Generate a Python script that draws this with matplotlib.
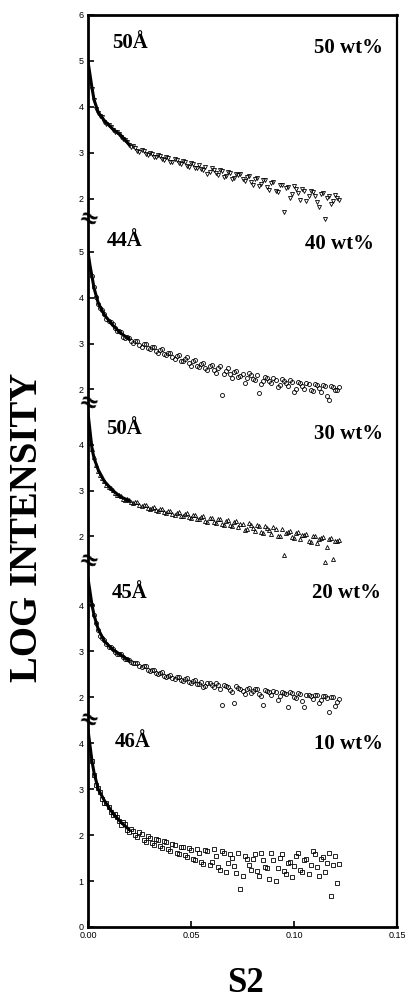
import matplotlib
matplotlib.use("Agg")
import matplotlib.pyplot as plt
import matplotlib.transforms as mtransforms

# ---------------- data ----------------
S2 = [0.002, 0.004, 0.006, 0.008, 0.010, 0.012, 0.014, 0.016, 0.018, 0.020,
      0.022, 0.024, 0.026, 0.028, 0.030, 0.032, 0.034, 0.036, 0.038, 0.040,
      0.042, 0.044, 0.046, 0.048, 0.050, 0.052, 0.054, 0.056, 0.058, 0.060,
      0.062, 0.064, 0.066, 0.068, 0.070, 0.072, 0.074, 0.076, 0.078, 0.080,
      0.082, 0.084, 0.086, 0.088, 0.090, 0.092, 0.094, 0.096, 0.098, 0.100,
      0.102, 0.104, 0.106, 0.108, 0.110, 0.112, 0.114, 0.116, 0.118, 0.120,
      0.122]
S2_b = [0.003, 0.005, 0.007, 0.009, 0.011, 0.013, 0.015, 0.017, 0.019, 0.021,
        0.023, 0.025, 0.027, 0.029, 0.031, 0.033, 0.035, 0.037, 0.039, 0.041,
        0.043, 0.045, 0.047, 0.049, 0.051, 0.053, 0.055, 0.057, 0.059, 0.061,
        0.063, 0.065, 0.067, 0.069, 0.071, 0.073, 0.075, 0.077, 0.079, 0.081,
        0.083, 0.085, 0.087, 0.089, 0.091, 0.093, 0.095, 0.097, 0.099, 0.101,
        0.103, 0.105, 0.107, 0.109, 0.111, 0.113, 0.115, 0.117, 0.119, 0.121]

wt50 = [4.40, 3.96, 3.81, 3.68, 3.61, 3.50, 3.46, 3.34, 3.29, 3.17,
        3.14, 3.05, 3.06, 2.97, 3.00, 2.91, 2.95, 2.86, 2.90, 2.80,
        2.86, 2.77, 2.83, 2.72, 2.78, 2.66, 2.74, 2.63, 2.55, 2.66,
        2.57, 2.62, 2.48, 2.58, 2.44, 2.55, 2.53, 2.38, 2.49, 2.30,
        2.45, 2.33, 2.41, 2.20, 2.36, 2.15, 2.31, 2.24, 2.02, 2.28,
        2.12, 2.22, 1.96, 2.18, 2.05, 1.82, 2.12, 2.01, 1.88, 2.08,
        1.97]
wt50_b = [4.16, 3.86, 3.77, 3.63, 3.57, 3.46, 3.41, 3.30, 3.24, 3.13,
          3.11, 3.02, 3.03, 2.95, 2.98, 2.90, 2.93, 2.84, 2.88, 2.81,
          2.84, 2.76, 2.81, 2.70, 2.75, 2.67, 2.64, 2.70, 2.58, 2.63,
          2.52, 2.60, 2.50, 2.56, 2.45, 2.52, 2.42, 2.48, 2.36, 2.43,
          2.28, 2.40, 2.25, 2.35, 2.18, 2.30, 1.72, 2.26, 2.10, 2.22,
          1.98, 2.18, 2.06, 2.15, 1.92, 2.10, 1.55, 2.05, 1.95, 2.02]
wt40 = [4.46, 4.01, 3.78, 3.64, 3.48, 3.42, 3.28, 3.24, 3.12, 3.13,
        3.02, 3.05, 2.93, 2.99, 2.88, 2.93, 2.80, 2.87, 2.74, 2.80,
        2.66, 2.75, 2.62, 2.70, 2.52, 2.64, 2.48, 2.58, 2.42, 2.53,
        2.36, 2.50, 2.33, 2.46, 2.25, 2.40, 2.30, 2.15, 2.36, 2.22,
        2.31, 2.12, 2.28, 2.18, 2.26, 2.05, 2.22, 2.14, 2.20, 1.95,
        2.17, 2.08, 2.15, 1.98, 2.12, 2.04, 2.10, 1.86, 2.07, 1.99,
        2.05]
wt40_b = [4.22, 3.86, 3.72, 3.54, 3.47, 3.33, 3.28, 3.15, 3.14, 3.05,
          3.06, 2.97, 2.98, 2.90, 2.92, 2.84, 2.86, 2.77, 2.79, 2.70,
          2.72, 2.63, 2.66, 2.57, 2.61, 2.52, 2.56, 2.47, 2.51, 2.43,
          2.46, 1.88, 2.41, 2.33, 2.37, 2.28, 2.34, 2.24, 2.31, 2.20,
          1.92, 2.19, 2.25, 2.14, 2.21, 2.10, 2.18, 2.07, 2.16, 2.02,
          2.13, 2.00, 2.11, 1.97, 2.09, 1.94, 2.07, 1.76, 2.05, 1.98]
wt30 = [3.90, 3.56, 3.33, 3.21, 3.08, 3.01, 2.91, 2.87, 2.80, 2.79,
        2.73, 2.74, 2.67, 2.68, 2.60, 2.64, 2.56, 2.60, 2.52, 2.55,
        2.47, 2.53, 2.44, 2.50, 2.40, 2.47, 2.38, 2.45, 2.32, 2.41,
        2.30, 2.38, 2.26, 2.36, 2.22, 2.33, 2.28, 2.14, 2.29, 2.18,
        2.25, 2.10, 2.22, 2.13, 2.20, 2.02, 2.16, 2.08, 2.12, 1.96,
        2.09, 2.03, 2.06, 1.88, 2.02, 1.95, 1.99, 1.78, 1.96, 1.90,
        1.93]
wt30_b = [3.72, 3.43, 3.28, 3.13, 3.06, 2.94, 2.91, 2.82, 2.81, 2.74,
          2.74, 2.68, 2.68, 2.62, 2.63, 2.57, 2.59, 2.53, 2.55, 2.49,
          2.52, 2.45, 2.49, 2.42, 2.46, 2.37, 2.43, 2.34, 2.40, 2.31,
          2.37, 2.27, 2.34, 2.25, 2.31, 2.20, 2.27, 2.16, 2.25, 2.12,
          2.22, 2.08, 2.19, 2.05, 2.17, 2.00, 1.60, 2.10, 1.98, 2.07,
          1.94, 2.04, 1.90, 2.01, 1.86, 1.97, 1.45, 1.94, 1.50, 1.91]
wt20 = [4.00, 3.62, 3.33, 3.24, 3.10, 3.06, 2.95, 2.94, 2.84, 2.82,
        2.74, 2.75, 2.65, 2.67, 2.57, 2.60, 2.51, 2.55, 2.45, 2.48,
        2.40, 2.45, 2.36, 2.41, 2.31, 2.37, 2.28, 2.22, 2.32, 2.26,
        2.30, 2.18, 2.27, 2.22, 2.12, 2.24, 2.19, 2.08, 2.21, 2.14,
        2.18, 2.02, 2.16, 2.11, 2.14, 1.95, 2.12, 2.08, 2.11, 2.00,
        2.09, 1.92, 2.06, 2.03, 2.05, 1.88, 2.03, 1.99, 2.01, 1.82,
        1.97]
wt20_b = [3.80, 3.46, 3.30, 3.15, 3.09, 2.98, 2.95, 2.87, 2.84, 2.76,
          2.75, 2.68, 2.67, 2.60, 2.59, 2.53, 2.53, 2.47, 2.47, 2.42,
          2.44, 2.38, 2.40, 2.33, 2.35, 2.29, 2.33, 2.25, 2.30, 2.23,
          2.27, 1.83, 2.25, 2.16, 1.87, 2.21, 2.14, 2.19, 2.10, 2.17,
          2.07, 1.83, 2.13, 2.05, 2.12, 2.02, 2.10, 1.78, 2.09, 1.99,
          2.07, 1.78, 2.05, 1.96, 2.04, 1.93, 2.02, 1.67, 2.00, 1.90]
wt10 = [3.62, 3.08, 2.93, 2.70, 2.62, 2.44, 2.40, 2.22, 2.24, 2.06,
        2.10, 1.95, 2.02, 1.86, 1.94, 1.78, 1.90, 1.72, 1.84, 1.66,
        1.78, 1.58, 1.74, 1.52, 1.68, 1.45, 1.62, 1.38, 1.66, 1.42,
        1.55, 1.25, 1.62, 1.40, 1.50, 1.18, 0.82, 1.55, 1.35, 1.48,
        1.22, 1.60, 1.30, 1.05, 1.45, 1.28, 1.58, 1.15, 1.42, 1.32,
        1.62, 1.20, 1.48, 1.35, 1.58, 1.10, 1.52, 1.40, 0.68, 1.55,
        1.38]
wt10_b = [3.30, 3.02, 2.78, 2.70, 2.50, 2.46, 2.30, 2.28, 2.12, 2.14,
          2.00, 2.06, 1.90, 1.98, 1.82, 1.92, 1.76, 1.88, 1.70, 1.80,
          1.62, 1.75, 1.56, 1.72, 1.48, 1.70, 1.42, 1.68, 1.35, 1.70,
          1.30, 1.65, 1.20, 1.58, 1.32, 1.62, 1.10, 1.48, 1.25, 1.58,
          1.12, 1.45, 1.28, 1.62, 1.00, 1.50, 1.22, 1.40, 1.08, 1.55,
          1.25, 1.45, 1.15, 1.65, 1.30, 1.48, 1.20, 1.62, 1.35, 0.95]

FIT_X = [0.0, 0.001, 0.002, 0.003, 0.005, 0.008, 0.012, 0.016, 0.020]
fit50 = [5.00, 4.70, 4.40, 4.15, 3.88, 3.70, 3.52, 3.38, 3.18]
fit40 = [5.00, 4.70, 4.45, 4.20, 3.88, 3.62, 3.40, 3.22, 3.10]
fit30 = [4.70, 4.30, 3.90, 3.70, 3.45, 3.20, 3.00, 2.86, 2.78]
fit20 = [4.60, 4.30, 4.00, 3.78, 3.48, 3.22, 3.04, 2.92, 2.80]
fit10 = [4.30, 3.95, 3.60, 3.35, 3.00, 2.75, 2.48, 2.28, 2.12]

concentrations = ["50 wt%", "40 wt%", "30 wt%", "20 wt%", "10 wt%"]
sizes = ["50Å", "44Å", "50Å", "45Å", "46Å"]
series_a = [wt50, wt40, wt30, wt20, wt10]
series_b = [wt50_b, wt40_b, wt30_b, wt20_b, wt10_b]
fits = [fit50, fit40, fit30, fit20, fit10]
panel_ticks = [[2, 3, 4, 5, 6], [2, 3, 4, 5], [2, 3, 4], [2, 3, 4], [0, 1, 2, 3, 4]]
x_ticks = [0.00, 0.05, 0.10, 0.15]

# ---------------- layout / style ----------------
offsets = [13.85, 9.7, 6.5, 3.0, 0.0]
markers = ["v", "o", "^", "o", "s"]
breaks = [15.4, 11.4, 7.95, 4.5]
size_pos = [(0.0116, 19.24), (0.0092, 14.93), (0.0087, 10.85), (0.0116, 7.26), (0.013, 4.02)]
conc_pos = [(0.143, 19.13), (0.139, 14.87), (0.143, 10.72), (0.142, 7.26), (0.143, 3.98)]

serif = ["Liberation Serif", "DejaVu Serif"]
sans = ["Liberation Sans", "DejaVu Sans"]

fig = plt.figure(figsize=(4.09, 10.0), dpi=100)
ax = fig.add_axes([0.215, 0.073, 0.756, 0.912])

mstyle = dict(linestyle="none", markersize=2.9, markerfacecolor="none",
              markeredgecolor="black", markeredgewidth=0.6, zorder=3)
for ya, yb, fy, off, mk in zip(series_a, series_b, fits, offsets, markers):
    ax.plot(S2, [v + off for v in ya], marker=mk, **mstyle)
    ax.plot(S2_b, [v + off for v in yb], marker=mk, **mstyle)
    ax.plot(FIT_X, [v + off for v in fy], color="black", linewidth=2.2,
            solid_capstyle="round", zorder=4)

ax.set_xlim(0, 0.15)
ax.set_ylim(0, 19.85)

ytick_pos, ytick_lab = [], []
for tks, off in zip(panel_ticks, offsets):
    for t in tks:
        ytick_pos.append(t + off)
        ytick_lab.append(str(t))
ax.set_yticks(ytick_pos)
ax.set_yticklabels(ytick_lab)
ax.set_xticks(x_ticks)
ax.set_xticklabels([f"{v:.2f}" for v in x_ticks])
ax.tick_params(direction="in", length=4, width=1.2, labelsize=6.5, pad=3)
for lab in ax.get_xticklabels() + ax.get_yticklabels():
    lab.set_family(sans)

for side, lw in [("left", 2.0), ("bottom", 2.0), ("top", 2.0), ("right", 1.6)]:
    ax.spines[side].set_linewidth(lw)

trans = mtransforms.blended_transform_factory(ax.transAxes, ax.transData)
for b in breaks:
    ax.text(0.0, b, "≈", transform=trans, ha="center", va="center",
            fontsize=17, fontweight="bold", rotation=-20, family=["DejaVu Sans"],
            zorder=6, clip_on=False)

for (sx, sy), s in zip(size_pos, sizes):
    ax.text(sx, sy, s, ha="left", va="center", fontsize=15,
            fontweight="bold", family=serif)
for (cx, cy), c in zip(conc_pos, concentrations):
    ax.text(cx, cy, c, ha="right", va="center", fontsize=15,
            fontweight="bold", family=serif)

fig.text(0.068, 0.473, "LOG INTENSITY", rotation=90, ha="center", va="center",
         fontsize=28, fontweight="bold", family=serif)
fig.text(0.6, 0.016, "S2", ha="center", va="center",
         fontsize=25, fontweight="bold", family=serif)

fig.savefig("out.png", dpi=100)
